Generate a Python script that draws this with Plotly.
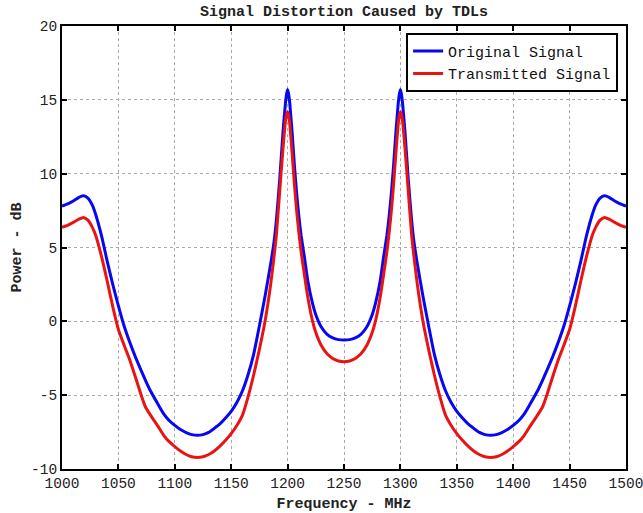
import plotly.graph_objects as go

freq_mhz = [1000, 1005, 1010, 1015, 1019, 1023, 1027, 1030, 1035, 1040, 1045, 1050, 1055, 1060, 1065, 1070,
            1074, 1078, 1085, 1090, 1095, 1100, 1105, 1110, 1115, 1120, 1125, 1130, 1135, 1140, 1145, 1150,
            1155, 1160, 1165, 1170, 1175, 1180, 1185, 1188, 1190, 1193, 1196, 1198, 1199, 1200, 1201, 1202,
            1204, 1206, 1208, 1210, 1212, 1215, 1218, 1222, 1225, 1230, 1235, 1240, 1245, 1250,
            1255, 1260, 1265, 1270, 1275, 1278, 1282, 1285, 1288, 1290, 1292, 1294, 1296, 1298, 1299, 1300,
            1301, 1302, 1304, 1307, 1310, 1312, 1315, 1320, 1325, 1330, 1335, 1340, 1345, 1350, 1355, 1360,
            1365, 1370, 1375, 1380, 1385, 1390, 1395, 1400, 1405, 1410, 1415, 1422, 1426, 1430, 1435, 1440,
            1445, 1450, 1455, 1460, 1465, 1470, 1473, 1477, 1481, 1485, 1490, 1495, 1500]

original_db = [7.8, 7.95, 8.15, 8.4, 8.5, 8.35, 7.85, 7.2, 5.8, 4.1, 2.5, 1.05, -0.3, -1.4, -2.4, -3.3,
               -4.0, -4.65, -5.6, -6.25, -6.72, -7.05, -7.33, -7.53, -7.67, -7.72, -7.67, -7.52, -7.25, -6.95, -6.55, -6.1,
               -5.5, -4.7, -3.6, -2.2, -0.3, 1.7, 3.9, 5.4, 6.8, 9.6, 12.9, 14.7, 15.35, 15.7, 15.35, 14.7,
               12.8, 10.6, 8.7, 7.1, 5.8, 4.3, 2.7, 1.25, 0.45, -0.4, -0.88, -1.12, -1.24, -1.27,
               -1.24, -1.12, -0.88, -0.4, 0.45, 1.25, 2.7, 4.3, 5.8, 7.1, 8.7, 10.6, 12.8, 14.7, 15.35, 15.7,
               15.35, 14.7, 12.9, 9.6, 6.8, 5.4, 3.9, 1.7, -0.3, -2.2, -3.6, -4.7, -5.5, -6.1, -6.55, -6.95,
               -7.25, -7.52, -7.67, -7.72, -7.67, -7.53, -7.33, -7.05, -6.72, -6.25, -5.6, -4.65, -4.0, -3.3, -2.4, -1.4,
               -0.3, 1.05, 2.5, 4.1, 5.8, 7.2, 7.85, 8.35, 8.5, 8.4, 8.15, 7.95, 7.8]

transmitted_db = [6.37, 6.5, 6.7, 6.92, 7.03, 6.85, 6.35, 5.8, 4.4, 2.75, 1.0, -0.55, -1.6, -2.6, -3.75, -4.95,
                  -5.8, -6.3, -7.1, -7.7, -8.15, -8.48, -8.78, -9.02, -9.17, -9.22, -9.17, -9.02, -8.78, -8.45, -8.05, -7.6,
                  -7.05, -6.35, -5.1, -3.6, -1.9, 0.0, 2.5, 4.4, 5.8, 8.8, 11.8, 13.5, 14.0, 14.2, 13.9, 13.3,
                  11.4, 9.3, 7.5, 6.0, 4.7, 3.1, 1.6, 0.05, -0.75, -1.65, -2.2, -2.52, -2.69, -2.74,
                  -2.69, -2.52, -2.2, -1.65, -0.75, 0.05, 1.6, 3.1, 4.7, 6.0, 7.5, 9.3, 11.4, 13.3, 13.9, 14.2,
                  14.0, 13.5, 11.8, 8.8, 5.8, 4.4, 2.5, 0.0, -1.9, -3.6, -5.1, -6.35, -7.05, -7.6, -8.05, -8.45,
                  -8.78, -9.02, -9.17, -9.22, -9.17, -9.02, -8.78, -8.48, -8.15, -7.7, -7.1, -6.3, -5.8, -4.95, -3.75, -2.6,
                  -1.6, -0.55, 1.0, 2.75, 4.4, 5.8, 6.35, 6.85, 7.03, 6.92, 6.7, 6.5, 6.37]

x_ticks = [1000, 1050, 1100, 1150, 1200, 1250, 1300, 1350, 1400, 1450, 1500]
y_ticks = [-10, -5, 0, 5, 10, 15, 20]
y_tick_labels = ["-10", "-5", "0", "5", "10", "15", "20"]

FONT = "Liberation Mono, Courier New, monospace"

fig = go.Figure()
fig.add_trace(go.Scatter(x=freq_mhz, y=original_db, mode="lines", name="Original Signal",
                         line=dict(color="#0808f0", width=3, shape="spline", smoothing=0.5)))
fig.add_trace(go.Scatter(x=freq_mhz, y=transmitted_db, mode="lines", name="Transmitted Signal",
                         line=dict(color="#e81414", width=3, shape="spline", smoothing=0.5)))

axis_common = dict(showline=True, mirror="ticks", linecolor="black", linewidth=2,
                   ticks="inside", ticklen=5, tickwidth=2, tickcolor="black",
                   showgrid=True, gridcolor="#aaaaaa", griddash="dot", gridwidth=1,
                   zeroline=False, automargin=False, ticklabeloverflow="allow",
                   tickfont=dict(family=FONT, size=14.5, color="#222"))

fig.update_xaxes(range=[1000, 1500], tickvals=x_ticks, ticktext=[str(v) for v in x_ticks],
                 title=dict(text="<b>Frequency - MHz</b>", font=dict(family=FONT, size=15, color="#222")),
                 **axis_common)
fig.update_yaxes(range=[-10, 20], tickvals=y_ticks, ticktext=y_tick_labels,
                 title=dict(text="<b>Power - dB</b>", font=dict(family=FONT, size=15, color="#222")),
                 **axis_common)

fig.update_layout(
    template="none",
    width=643, height=513,
    margin=dict(l=62, r=17, t=26, b=44, autoexpand=False),
    paper_bgcolor="white", plot_bgcolor="white",
    title=dict(text="<b>Signal Distortion Caused by TDLs</b>", x=0.535, xanchor="center",
               yref="container", y=0.989, yanchor="top",
               font=dict(family=FONT, size=15, color="#222")),
    legend=dict(x=0.986, y=0.985, xanchor="right", yanchor="top", bgcolor="white",
                bordercolor="black", borderwidth=2, font=dict(family=FONT, size=15, color="#111")),
    showlegend=True,
)

fig.write_html("out.html", config={"displayModeBar": False},
               post_script="document.body.style.margin='0';document.body.style.overflow='hidden';")
